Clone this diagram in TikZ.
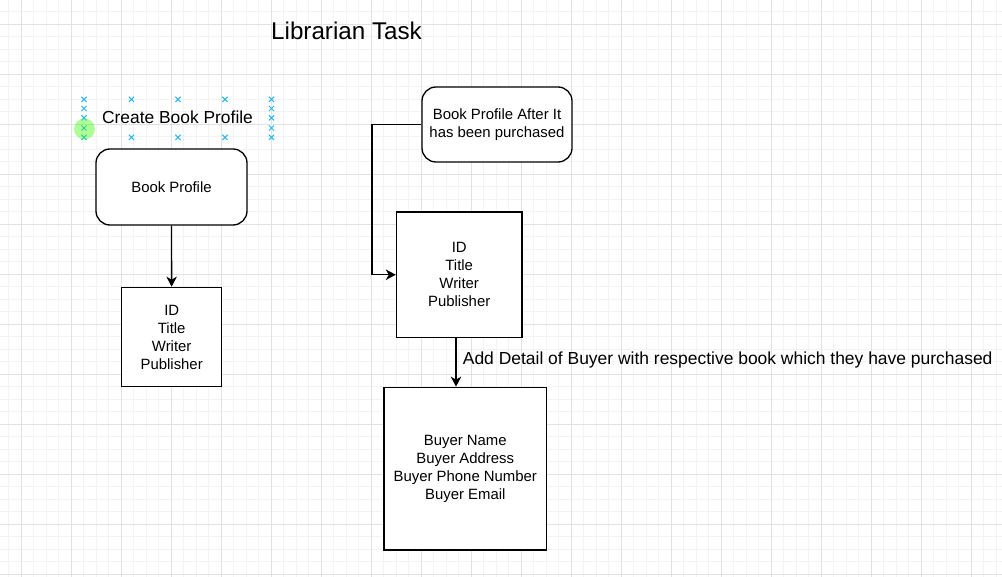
\documentclass[tikz,border=0pt]{standalone}
\usepackage{fontspec}
\setmainfont{Liberation Sans}
\usetikzlibrary{arrows.meta}
\definecolor{minorgrid}{RGB}{243,243,243}
\definecolor{majorgrid}{RGB}{226,226,226}
\definecolor{handleblue}{RGB}{41,182,242}
\tikzset{
  boxtext/.style={font=\fontsize{14.9}{18}\selectfont, align=center},
  sqbox/.style={draw=black, line width=1.3pt, fill=white, inner sep=0pt, boxtext},
  rbox/.style={sqbox, rounded corners=14pt},
  arr/.style={draw=black, line width=1.3pt, -{Stealth[length=10pt,width=10.5pt,inset=3pt]}},
  handle/.style={draw=handleblue, line width=1pt},
}
\begin{document}
\begin{tikzpicture}[x=1pt,y=-1pt]
\useasboundingbox (0,0) rectangle (1002,577);
\fill[white] (0,0) rectangle (1002,577);
% grid
\foreach \i in {0,...,79} {\draw[minorgrid, line width=1pt] ({8.8+12.5*\i},0) -- ({8.8+12.5*\i},577);}
\foreach \i in {0,...,45} {\draw[minorgrid, line width=1pt] (0,{11.8+12.5*\i}) -- (1002,{11.8+12.5*\i});}
\foreach \i in {0,...,19} {\draw[majorgrid, line width=1pt] ({21.3+50*\i},0) -- ({21.3+50*\i},577);}
\foreach \i in {0,...,11} {\draw[majorgrid, line width=1pt] (0,{24.3+50*\i}) -- (1002,{24.3+50*\i});}

% titles
\node[font=\fontsize{24.2}{29}\selectfont, anchor=base, inner sep=0pt] (title) at (346.5,39.3) {Librarian Task};
\node[font=\fontsize{17.4}{21}\selectfont, anchor=base, inner sep=0pt] (create) at (177.5,123.3) {Create Book Profile};

% selection handles
\foreach \p in {(84,99.3),(84,108.5),(84,117.8),(84,128),(84,137.3),
                (131.5,99.3),(178,99.3),(225,99.3),
                (131.5,137.3),(178,137.3),(225,137.3),
                (271.5,99.3),(271.5,108.5),(271.5,117.8),(271.5,128),(271.5,137.3)}
  {\draw[handle] \p +(-2.6,-2.6) -- +(2.6,2.6) \p +(-2.6,2.6) -- +(2.6,-2.6);}
\fill[green!70!lime, opacity=0.4] (84.5,129) circle[radius=10.5];

% left column
\node[rbox, minimum width=151pt, minimum height=76pt] (bp) at (171.5,187) {Book Profile};
\node[sqbox, minimum width=100pt, minimum height=99.4pt] (id1) at (171.7,337) {ID\\Title\\Writer\\Publisher};
\draw[arr] (bp) -- (id1);

% right column
\node[rbox, minimum width=150pt, minimum height=75pt] (after) at (497,124.5) {Book Profile After It\\has been purchased};
\node[sqbox, minimum width=125.5pt, minimum height=125.5pt] (id2) at (459.2,274.75) {ID\\Title\\Writer\\Publisher};
\node[sqbox, minimum width=162.7pt, minimum height=162.7pt] (buyer) at (465.3,468.6) {Buyer Name\\Buyer Address\\Buyer Phone Number\\Buyer Email};

\coordinate (bend) at (372,0);
\coordinate (ax) at (456,0);
\draw[arr] (after.west) -- (after.west -| bend) |- (id2.west);
\draw[arr] (id2.south -| ax) -- (buyer.north -| ax);
\node[font=\fontsize{17.45}{21}\selectfont, anchor=base west, inner sep=0pt] (lbl) at (462.7,364.3) {Add Detail of Buyer with respective book which they have purchased};
\end{tikzpicture}
\end{document}
